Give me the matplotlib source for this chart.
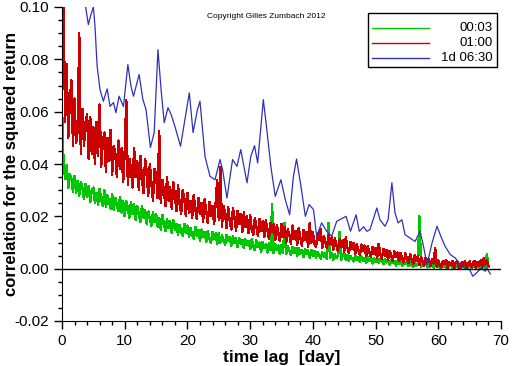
import numpy as np
import matplotlib
matplotlib.use("Agg")
import matplotlib.pyplot as plt
from matplotlib.ticker import MultipleLocator, FormatStrFormatter

plt.rcParams['font.family'] = ['Liberation Sans', 'DejaVu Sans']

# lag grid for the two high-frequency series (days, step 0.25)
lag_step = 0.25

# 00:03 series, correlation in units of 1e-4
corr_0003 = [
    620, 400, 345, 395, 310, 360, 345, 295, 355, 290, 335, 280, 330, 310, 265, 325, 275, 315, 255, 300,
    310, 250, 290, 245, 305, 265, 240, 300, 235, 280, 255, 230, 285, 225, 270, 240, 220, 275, 215, 260,
    200, 258, 230, 195, 255, 210, 245, 188, 240, 205, 180, 238, 195, 225, 172, 218, 190, 165, 215, 178,
    210, 160, 195, 150, 205, 172, 145, 190, 155, 180, 138, 185, 150, 172, 130, 168, 142, 125, 172, 135,
    165, 122, 155, 130, 115, 160, 125, 148, 108, 150, 120, 140, 102, 145, 115, 98, 140, 112, 135, 95,
    135, 100, 128, 108, 92, 130, 105, 122, 88, 125, 98, 115, 82, 118, 95, 110, 78, 112, 90, 105,
    75, 112, 88, 70, 108, 82, 100, 65, 102, 78, 95, 62, 98, 72, 245, 60, 92, 70, 88, 55,
    90, 62, 175, 55, 85, 68, 52, 82, 60, 78, 48, 80, 58, 72, 45, 75, 55, 70, 42, 72,
    50, 68, 40, 65, 52, 38, 62, 45, 60, 36, 175, 42, 58, 34, 55, 40, 52, 140, 32, 50,
    58, 35, 52, 30, 48, 38, 28, 50, 32, 45, 25, 46, 30, 42, 22, 44, 28, 40, 20, 42,
    25, 42, 22, 38, 28, 18, 36, 24, 34, 15, 32, 22, 30, 12, 30, 20, 28, 10, 27, 18,
    26, 10, 28, 15, 8, 25, 12, 22, 200, 6, 20, 10, 22, 5, 18, 8, 20, 4, 16, 10,
    18, 3, 15, 6, 17, 2, 14, 8, 16, 1, 13, 5, 15, 0, 12, 6, 16, 0, 12, 4,
    14, 0, 10, 15, 2, 13, 5, 16, 3, 18, 2, 55, 6,
]

# 01:00 series, correlation in units of 1e-4
corr_0100 = [
    850, 1000, 560, 780, 500, 640, 720, 470, 650, 480, 530, 900, 440, 610, 470, 560, 590, 420, 580, 440,
    540, 400, 560, 430, 627, 390, 480, 520, 370, 500, 410, 530, 360, 470, 440, 350, 490, 380, 460, 330,
    450, 646, 320, 420, 380, 310, 460, 350, 410, 300, 430, 340, 290, 420, 370, 280, 400, 330, 260, 380,
    360, 270, 525, 250, 340, 300, 240, 350, 260, 310, 230, 330, 280, 220, 320, 250, 210, 300, 270, 200,
    290, 215, 260, 195, 280, 230, 190, 270, 210, 250, 180, 265, 220, 175, 255, 200, 240, 170, 250, 340,
    185, 390, 160, 240, 210, 155, 235, 180, 150, 230, 195, 145, 220, 170, 210, 140, 215, 160, 200, 135,
    205, 150, 130, 195, 160, 125, 190, 145, 180, 120, 185, 150, 115, 175, 140, 170, 110, 165, 135, 105,
    170, 120, 160, 100, 150, 130, 95, 165, 115, 145, 92, 155, 120, 88, 148, 110, 140, 85, 175, 100,
    140, 95, 82, 135, 110, 150, 80, 125, 100, 78, 130, 95, 120, 72, 115, 90, 68, 112, 85, 108,
    65, 120, 80, 60, 102, 75, 98, 55, 95, 70, 52, 92, 68, 88, 48, 85, 62, 45, 82, 58,
    80, 40, 95, 55, 38, 75, 50, 72, 34, 68, 48, 30, 66, 45, 62, 28, 60, 40, 24, 58,
    38, 22, 56, 35, 18, 52, 30, 48, 15, 45, 28, 12, 42, 25, 38, 10, 36, 20, 80, 8,
    32, 12, 5, 30, 18, 34, 3, 25, 14, 30, 2, 22, 28, 8, 1, 26, 12, 30, 0, 20,
    28, 6, 18, 30, 2, 25, 12, 32, 5, 40, 15, 34, 10,
]

# 1d 06:30 series (lag in days, correlation)
lag_1d = [3.5, 3.8, 4.2, 4.6, 5.0, 5.26, 5.6, 6.06, 6.6, 7.2, 7.66, 8.2, 8.6, 9.1, 9.8,
          10.5, 11.0, 11.4, 12.3, 12.9, 13.4, 14.1, 14.7, 15.3, 15.8, 16.3, 16.9, 17.4,
          18.0, 18.9, 19.6, 20.3, 20.9, 21.6, 22.0, 22.8, 23.6, 24.4, 25.2, 25.6, 26.3,
          27.2, 27.9, 28.5, 29.5, 30.1, 30.7, 31.2, 32.1, 32.6, 33.3, 34.0, 34.9, 35.6,
          36.3, 36.9, 37.4, 38.1, 38.8, 39.4, 40.1, 40.6, 41.4, 42.2, 43.0, 43.8, 45.3,
          46.0, 46.9, 47.4, 48.1, 48.6, 49.1, 50.2, 50.7, 51.5, 52.0, 52.6, 53.1, 53.6,
          54.2, 54.7, 55.5, 56.3, 57.1, 57.7, 58.2, 59.0, 59.8, 60.4, 61.1, 61.9, 62.7,
          63.5, 64.3, 65.0, 65.5, 66.1, 66.9, 67.5, 67.7, 68.3]
corr_1d = [0.104, 0.0995, 0.0933, 0.097, 0.100, 0.0927, 0.0774, 0.0684, 0.064, 0.0687,
           0.062, 0.0635, 0.0596, 0.0659, 0.062, 0.078, 0.0697, 0.0659, 0.0742, 0.0646,
           0.0608, 0.0463, 0.052, 0.0837, 0.0684, 0.0558, 0.0615, 0.0589, 0.0544, 0.0468,
           0.057, 0.0672, 0.052, 0.0608, 0.064, 0.0429, 0.0353, 0.034, 0.0417, 0.0379,
           0.027, 0.0417, 0.0391, 0.0455, 0.0328, 0.0429, 0.047, 0.0404, 0.0646, 0.0544,
           0.0391, 0.0276, 0.034, 0.0264, 0.0206, 0.0353, 0.0419, 0.0315, 0.020, 0.0245,
           0.0226, 0.0124, 0.0175, 0.0143, 0.0124, 0.0181, 0.020, 0.0143, 0.0206, 0.0143,
           0.016, 0.0143, 0.0149, 0.0232, 0.0187, 0.0162, 0.0187, 0.0328, 0.0213, 0.0175,
           0.0187, 0.013, 0.0117, 0.0104, 0.0143, 0.0079, 0.0015, 0.0098, 0.0162, 0.0124,
           0.0085, 0.0054, 0.0041, 0.0015, 0.0003, -0.0004, -0.0029, -0.0016, 0.0003,
           -0.001, 0.0003, -0.002]

labels = ['00:03', '01:00', '1d 06:30']
colors = ['#00c800', '#cc0000', '#3030bb']

lag = np.arange(len(corr_0003)) * lag_step
y_0003 = np.array(corr_0003) * 1e-4
y_0100 = np.array(corr_0100) * 1e-4

fig = plt.figure(figsize=(5.12, 3.66), dpi=100)
ax = fig.add_axes([62 / 512, 45 / 366, 439 / 512, 314 / 366])

ax.plot(lag, y_0003, color=colors[0], lw=1.0, antialiased=False)
ax.plot(lag, y_0100, color=colors[1], lw=1.0, antialiased=False)
ax.plot(lag_1d, corr_1d, color=colors[2], lw=0.9)
ax.axhline(0, color='black', lw=1)

ax.set_xlim(0, 70)
ax.set_ylim(-0.02, 0.10)
ax.xaxis.set_major_locator(MultipleLocator(10))
ax.xaxis.set_minor_locator(MultipleLocator(2))
ax.yaxis.set_major_locator(MultipleLocator(0.02))
ax.yaxis.set_minor_locator(MultipleLocator(0.005))
ax.yaxis.set_major_formatter(FormatStrFormatter('%.2f'))
ax.tick_params(which='major', direction='out', length=6, width=1, labelsize=11)
ax.tick_params(which='minor', direction='out', length=3, width=1)
ax.spines['top'].set_visible(False)
ax.spines['right'].set_visible(False)

ax.set_xlabel('time lag  [day]', fontsize=12.5, fontweight='bold', labelpad=1)
ax.set_ylabel('correlation for the squared return', fontsize=12, fontweight='bold')
ax.yaxis.set_label_coords(-0.097, 0.5)

ax.text(0.465, 0.971, 'Copyright Gilles Zumbach 2012', transform=ax.transAxes,
        ha='center', va='center', fontsize=6)

# legend drawn by hand: line on the left, label right-aligned
ax.add_patch(plt.Rectangle((0.697, 0.809), 0.294, 0.172, transform=ax.transAxes,
                           facecolor='white', edgecolor='black', lw=1, zorder=5))
for i, (lab, col) in enumerate(zip(labels, colors)):
    yy = 0.932 - i * 0.0475
    ax.plot([0.706, 0.836], [yy, yy], color=col, lw=1, transform=ax.transAxes, zorder=6)
    ax.text(0.982, yy, lab, transform=ax.transAxes, ha='right', va='center',
            fontsize=9.5, zorder=6)

fig.savefig('out.png', dpi=100)
